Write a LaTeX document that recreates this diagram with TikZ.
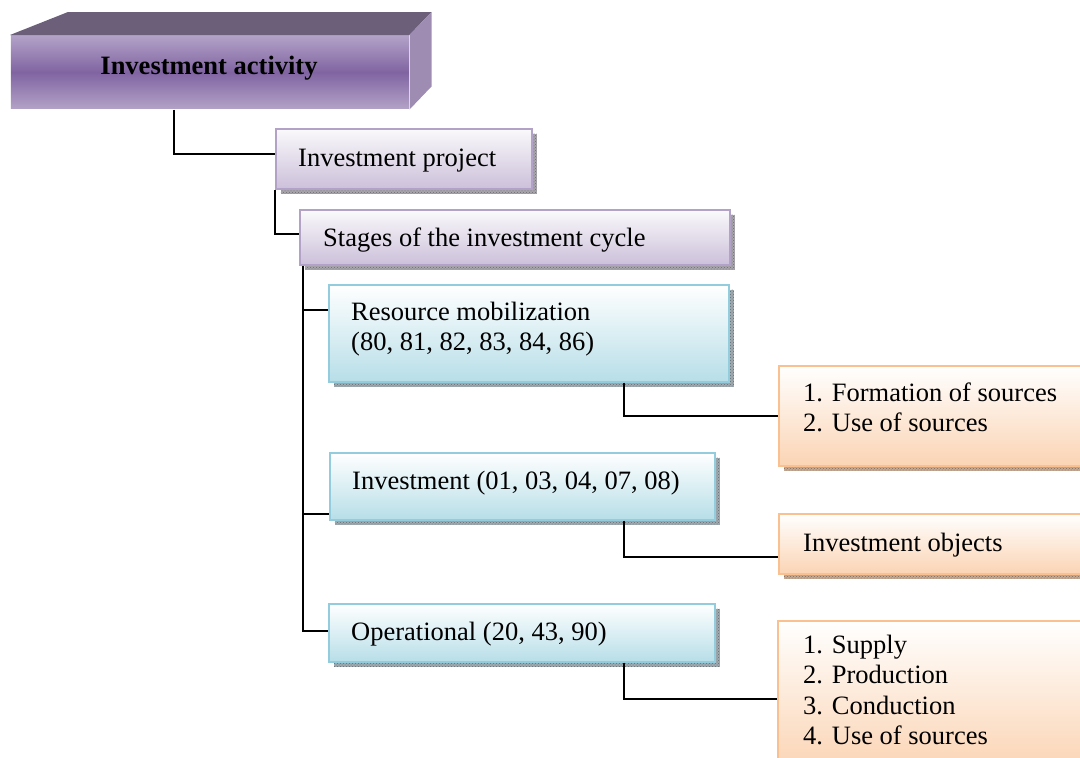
\documentclass[tikz,border=0pt]{standalone}
\usepackage{fontspec}
\setmainfont{Liberation Serif}
\usetikzlibrary{shadows,patterns}
\definecolor{pL}{HTML}{B3A2C7}
\definecolor{pD}{HTML}{8064A2}
\definecolor{pTop}{HTML}{6B5F79}
\definecolor{pSide}{HTML}{9F8CB2}
\definecolor{pBot}{HTML}{CCC0DA}
\definecolor{pTopL}{HTML}{FAF9FB}
\definecolor{bB}{HTML}{93CDDD}
\definecolor{bBot}{HTML}{B7DEE8}
\definecolor{oB}{HTML}{FAC090}
\definecolor{oBot}{HTML}{FBD4B4}
\definecolor{shG}{HTML}{A8A4AC}
\definecolor{shB}{HTML}{9EAAB0}
\definecolor{shO}{HTML}{C4A892}
\begin{document}
\begin{tikzpicture}[x=1pt,y=-1pt,
  every node/.style={font=\fontsize{26.5}{30.5}\selectfont},
  box/.style={anchor=north west, inner sep=0pt, line width=1.5pt},
  sh/.style={general shadow={shadow xshift=5pt,shadow yshift=-5pt,fill=#1},
             general shadow={shadow xshift=5pt,shadow yshift=-5pt,pattern=crosshatch dots,pattern color=#1!65!black}},
  purplebox/.style={box, draw=pL, top color=pTopL, bottom color=pBot, sh=shG},
  bluebox/.style={box, draw=bB, top color=white, bottom color=bBot, sh=shB},
  orangebox/.style={box, draw=oB, top color=white, bottom color=oBot, sh=shO},
  txt/.style={anchor=base west, inner sep=0pt},
  conn/.style={line width=1.6pt, black}]
\useasboundingbox (0,0) rectangle (1080,758);

% main 3D box
\node[box, draw=none, minimum width=398pt, minimum height=73pt,
      top color=pL, bottom color=pL, middle color=pD] (act) at (10,35) {};
\fill[pTop] (act.north west) -- ([shift={(58,-23)}]act.north west)
  -- ([shift={(22,-23)}]act.north east) -- (act.north east) -- cycle;
\fill[pSide] (act.north east) -- ([shift={(22,-23)}]act.north east)
  -- ([shift={(22,-23)}]act.south east) -- (act.south east) -- cycle;
\node[anchor=base, inner sep=0pt, font=\fontsize{26.5}{30.5}\selectfont\bfseries] (actt) at (209,74) {Investment activity};

% boxes
\node[purplebox, minimum width=256pt, minimum height=60pt] (proj) at (275,128) {};
\node[txt] (projt) at (298,166) {Investment project};

\node[purplebox, minimum width=430pt, minimum height=55pt] (stages) at (299,209) {};
\node[txt] (stagest) at (323,246) {Stages of the investment cycle};

\node[bluebox, minimum width=400pt, minimum height=97pt] (res) at (328,284) {};
\node[txt] (rest) at (351,320) {\begin{tabular}[t]{@{}l@{}}Resource mobilization\\(80, 81, 82, 83, 84, 86)\end{tabular}};

\node[bluebox, minimum width=385pt, minimum height=67pt] (inv) at (329,452) {};
\node[txt] (invt) at (352,489) {Investment (01, 03, 04, 07, 08)};

\node[bluebox, minimum width=386pt, minimum height=58pt] (op) at (328,603) {};
\node[txt] (opt) at (351,640) {Operational (20, 43, 90)};

\node[orangebox, minimum width=320pt, minimum height=100pt] (form) at (778,365) {};
\node[txt] (formt) at (803,401) {\begin{tabular}[t]{@{}l@{}}1. Formation of sources\\2. Use of sources\end{tabular}};

\node[orangebox, minimum width=320pt, minimum height=60pt] (obj) at (778,513) {};
\node[txt] (objt) at (803,551) {Investment objects};

\node[orangebox, minimum width=320pt, minimum height=150pt] (sup) at (777,620) {};
\node[txt] (supt) at (803,653) {\begin{tabular}[t]{@{}l@{}}1. Supply\\2. Production\\3. Conduction\\4. Use of sources\end{tabular}};

% connectors
\draw[conn] ([xshift=164pt]act.south west) |- ([yshift=5pt]proj.west);
\draw[conn] (proj.south west) |- ([yshift=3.5pt]stages.west);
\coordinate (trunk) at ([xshift=4pt]stages.south west);
\draw[conn] (trunk) |- ([yshift=2pt]op.west);
\draw[conn] ([yshift=23.5pt]res.west) -| (trunk);
\draw[conn] ([yshift=-27.5pt]inv.west) -| (trunk);
\draw[conn] ([xshift=296pt]res.south west) |- (form.west);
\draw[conn] ([xshift=295pt]inv.south west) |- ([yshift=-13pt]obj.west);
\draw[conn] ([xshift=296pt]op.south west) |- ([yshift=-3pt]sup.west);
\end{tikzpicture}
\end{document}
